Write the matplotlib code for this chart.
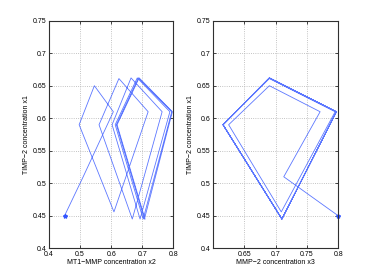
import matplotlib
matplotlib.use("Agg")
import matplotlib.pyplot as plt

plt.rcParams['font.family'] = ['Liberation Sans', 'DejaVu Sans']

# trajectory: x1 = TIMP-2, x2 = MT1-MMP, x3 = MMP-2
x1 = [0.45, 0.51, 0.61, 0.65, 0.59, 0.456, 0.61, 0.661, 0.59, 0.445,
      0.61, 0.662, 0.59, 0.445, 0.61, 0.662, 0.59, 0.445, 0.61, 0.662,
      0.59, 0.445, 0.61, 0.662, 0.59, 0.445]
x2 = [0.45, 0.51, 0.607, 0.546, 0.497, 0.609, 0.719, 0.625, 0.561, 0.668,
      0.764, 0.664, 0.603, 0.693, 0.789, 0.684, 0.613, 0.703, 0.795, 0.688,
      0.617, 0.707, 0.797, 0.69, 0.619, 0.709]
x3 = [0.8, 0.713, 0.771, 0.69, 0.625, 0.709, 0.795, 0.69, 0.616, 0.71,
      0.797, 0.69, 0.616, 0.71, 0.797, 0.69, 0.616, 0.71, 0.797, 0.69,
      0.616, 0.71, 0.797, 0.69, 0.616, 0.71]

ylim = (0.4, 0.75)
yticks = [0.4, 0.45, 0.5, 0.55, 0.6, 0.65, 0.7, 0.75]

fig = plt.figure(figsize=(3.74, 2.8), dpi=100)
ax1 = fig.add_axes([0.131, 0.1132, 0.3324, 0.8129])
ax2 = fig.add_axes([0.5703, 0.1132, 0.3342, 0.8129])

def style(ax):
    ax.set_ylim(*ylim)
    ax.set_yticks(yticks)
    ax.set_yticklabels(["%g" % v for v in yticks])
    ax.grid(True, linestyle=':', color='#b0b0b0', linewidth=0.6)
    ax.tick_params(direction='in', length=2.5, width=0.5, labelsize=5,
                   top=True, right=True, pad=2)
    for s in ax.spines.values():
        s.set_linewidth(0.8)
        s.set_color('#303030')
    ax.set_ylabel("TIMP\u22122 concentration x1", fontsize=5, labelpad=2)

ax1.plot(x2, x1, color='#3355ff', lw=0.6, alpha=0.8)
ax1.plot(x2[0], x1[0], '*', color='#3355ff', ms=3)
ax1.set_xlim(0.4, 0.8)
ax1.set_xticks([0.4, 0.5, 0.6, 0.7, 0.8])
ax1.set_xticklabels(["0.4", "0.5", "0.6", "0.7", "0.8"])
style(ax1)
ax1.set_xlabel("MT1\u2212MMP concentration x2", fontsize=5, labelpad=1)

ax2.plot(x3, x1, color='#3355ff', lw=0.6, alpha=0.8)
ax2.plot(x3[0], x1[0], '*', color='#3355ff', ms=3, clip_on=False)
ax2.set_xlim(0.6005, 0.8)
ax2.set_xticks([0.65, 0.7, 0.75, 0.8])
ax2.set_xticklabels(["0.65", "0.7", "0.75", "0.8"])
style(ax2)
ax2.set_xlabel("MMP\u22122 concentration x3", fontsize=5, labelpad=1)

fig.savefig("out.png", dpi=100)
